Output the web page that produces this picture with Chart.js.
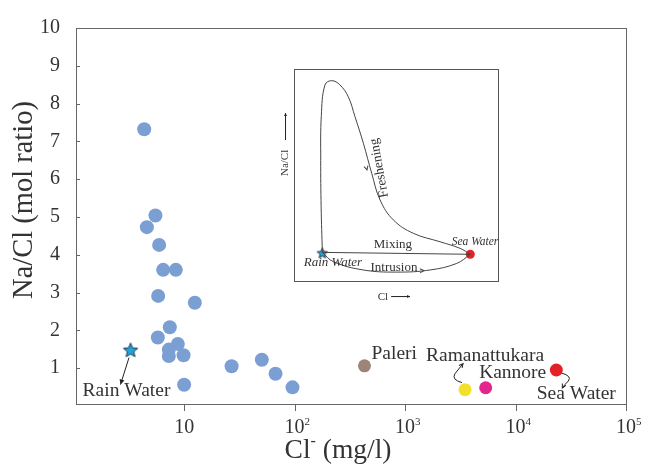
<!DOCTYPE html>
<html>
<head>
<meta charset="utf-8">
<script src="https://cdn.jsdelivr.net/npm/chart.js@4.4.0/dist/chart.umd.min.js"></script>
<style>
html,body{margin:0;padding:0;background:#fff;}
#wrap{position:relative;width:652px;height:464px;}
#main{position:absolute;left:0;top:0;}
#inset{position:absolute;left:270px;top:60px;}
</style>
</head>
<body>
<div id="wrap">
<canvas id="main" width="652" height="464"></canvas>
<canvas id="inset" width="236" height="250"></canvas>
</div>
<script>
const SERIF='"Liberation Serif","Times New Roman",serif';
const INK='#333';

// groundwater samples: Cl- (mg/l) and Na/Cl (mol ratio)
const wellCl=[4.35,5.5,4.6,5.94,6.46,8.41,5.82,12.5,7.42,5.78,8.77,7.27,7.27,9.88,10.0,26.9,50.5,67.2,95.7];
const wellRatio=[7.32,5.04,4.73,4.26,3.60,3.60,2.91,2.73,2.08,1.81,1.64,1.49,1.32,1.34,0.56,1.05,1.22,0.85,0.49];

// rain water end member
const rainCl=[3.27];
const rainRatio=[1.49];

// named stations
const siteNames=['Paleri','Ramanattukara','Kannore','Sea Water'];
const siteCl=[429,3490,5370,23400];
const siteRatio=[1.06,0.43,0.48,0.95];
const siteColors=['#9e8478','#f2e12c','#e3258e','#e42128'];

// axis ticks
const yTicks=[1,2,3,4,5,6,7,8,9,10];
const xTicks=[10,100,1000,10000,100000];
const xTickExp=['','2','3','4','5'];

// inset sketch (relative units 0-100)
const freshX=[13.9,13.3,13.1,13.4,15.2,18.5,22.5,26.6,29.9,34,38.1,42.2,48.7,58.5,71.6,81.4,86.4];
const freshY=[13.5,35,57,78,92.5,94.5,92.5,86.9,77.5,65,50.8,38.2,28.8,22.5,18.5,15.4,12.6];
const mixX=[13.9,86.4];
const mixY=[13.5,12.6];
const intrX=[13.9,19.3,34,50.3,66.7,79.8,86.4];
const intrY=[13.5,9.1,5.2,4.2,5.2,8.3,12.6];

function starImg(r,fill,stroke){
const c=document.createElement('canvas');
const s=Math.ceil(r*2+3);
c.width=s;c.height=s;
const g=c.getContext('2d');
g.beginPath();
for(let i=0;i<10;i++){
const a=-Math.PI/2+i*Math.PI/5;
const rr=i%2?r*0.45:r;
g.lineTo(s/2+rr*Math.cos(a),s/2+1+rr*Math.sin(a));
}
g.closePath();
g.fillStyle=fill;g.fill();
g.strokeStyle=stroke;g.lineWidth=1;g.stroke();
return c;
}

function arrowHead(ctx,x,y,ang,len,filled){
ctx.save();
ctx.translate(x,y);ctx.rotate(ang);
ctx.beginPath();
ctx.moveTo(-len,-len*0.5);ctx.lineTo(0,0);ctx.lineTo(-len,len*0.5);
if(filled){ctx.closePath();ctx.fill();}else ctx.stroke();
ctx.restore();
}

function pts(xs,ys){return xs.map((x,i)=>({x:x,y:ys[i]}));}

const mainDecor={
id:'mainDecor',
afterDraw(chart){
const ctx=chart.ctx;
const a=chart.chartArea;
const sx=chart.scales.x,sy=chart.scales.y;
ctx.save();
ctx.strokeStyle='#666';ctx.lineWidth=1;
ctx.strokeRect(Math.round(a.left)+0.5,Math.round(a.top)+0.5,Math.round(a.right-a.left),Math.round(a.bottom-a.top));
// y ticks inward, x ticks outward
ctx.beginPath();
yTicks.forEach(v=>{const p=Math.round(sy.getPixelForValue(v))+0.5;ctx.moveTo(a.left,p);ctx.lineTo(a.left+4,p);});
xTicks.forEach(v=>{const p=Math.round(sx.getPixelForValue(v))+0.5;ctx.moveTo(p,a.bottom);ctx.lineTo(p,a.bottom+7);});
ctx.stroke();

ctx.fillStyle=INK;
// x tick labels with exponents
ctx.textBaseline='alphabetic';
xTicks.forEach((v,i)=>{
const p=sx.getPixelForValue(v);
ctx.font='20px '+SERIF;ctx.textAlign='center';
ctx.fillText('10',p,433);
if(xTickExp[i]){
const w=ctx.measureText('10').width;
ctx.font='11px '+SERIF;ctx.textAlign='left';
ctx.fillText(xTickExp[i],p+w/2,425);
}
});

// axis titles
ctx.font='27.5px '+SERIF;
const w1=ctx.measureText('Cl').width;
const w2=ctx.measureText(' (mg/l)').width;
ctx.font='16px '+SERIF;
const wm=ctx.measureText('-').width;
let x0=338-(w1+wm+w2)/2;
ctx.textAlign='left';
ctx.font='27.5px '+SERIF;ctx.fillText('Cl',x0,458);
ctx.font='16px '+SERIF;ctx.fillText('-',x0+w1,446);
ctx.font='27.5px '+SERIF;ctx.fillText(' (mg/l)',x0+w1+wm,458);

ctx.save();
ctx.translate(25,200);ctx.rotate(-Math.PI/2);
ctx.textAlign='center';ctx.textBaseline='middle';
ctx.font='28.5px '+SERIF;
ctx.fillText('Na/Cl (mol ratio)',0,0);
ctx.restore();

// point labels
const star=chart.getDatasetMeta(1).data[0];
const site=siteNames.map((n,i)=>chart.getDatasetMeta(2+i).data[0]);
ctx.font='19.5px '+SERIF;ctx.textBaseline='middle';ctx.textAlign='center';
ctx.fillText('Rain Water',star.x-4,star.y+41);
ctx.textAlign='left';
ctx.fillText(siteNames[0],site[0].x+7,site[0].y-12);
ctx.textAlign='center';
ctx.fillText(siteNames[1],site[1].x+20,site[1].y-34);
ctx.fillText(siteNames[2],site[2].x+27,site[2].y-15);
ctx.fillText(siteNames[3],site[3].x+20,site[3].y+24);

// leader arrows
ctx.strokeStyle='#222';ctx.fillStyle='#222';ctx.lineWidth=1;
ctx.beginPath();
ctx.moveTo(star.x-1.5,star.y+8);ctx.lineTo(star.x-10,star.y+35);
ctx.stroke();
arrowHead(ctx,star.x-10,star.y+35,Math.atan2(27,-8.5),5,true);

const r=site[1];
ctx.beginPath();
ctx.moveTo(r.x-3,r.y-7);
ctx.quadraticCurveTo(r.x-14,r.y-10,r.x-10,r.y-16);
ctx.quadraticCurveTo(r.x-6,r.y-21,r.x-2,r.y-26);
ctx.stroke();
arrowHead(ctx,r.x-2,r.y-26,Math.atan2(-5,4),4,false);

const s=site[3];
ctx.beginPath();
ctx.moveTo(s.x+5,s.y+3);
ctx.quadraticCurveTo(s.x+16,s.y+6,s.x+12,s.y+11);
ctx.quadraticCurveTo(s.x+8,s.y+15,s.x+6,s.y+18);
ctx.stroke();
arrowHead(ctx,s.x+6,s.y+18,Math.atan2(4,-2),4,false);
ctx.restore();
}
};

new Chart(document.getElementById('main'),{
type:'scatter',
data:{
datasets:[
{data:pts(wellCl,wellRatio),backgroundColor:'#7b9fd3',borderWidth:0,pointRadius:7},
{data:pts(rainCl,rainRatio),pointStyle:starImg(7.5,'#1da6da','#1f3550'),pointRadius:8},
...siteNames.map((n,i)=>({label:n,data:[{x:siteCl[i],y:siteRatio[i]}],backgroundColor:siteColors[i],borderWidth:0,pointRadius:6.5}))
]
},
options:{
responsive:false,
animation:false,
layout:{padding:{top:16,right:26,left:0,bottom:0}},
plugins:{legend:{display:false},tooltip:{enabled:false}},
scales:{
x:{
type:'logarithmic',min:1.05,max:100000,
afterBuildTicks:s=>{s.ticks=xTicks.map(v=>({value:v}));},
afterFit:s=>{s.height=60;},
ticks:{display:false},
grid:{display:false,drawTicks:false},
border:{display:false}
},
y:{
min:0.05,max:10,
afterBuildTicks:s=>{s.ticks=yTicks.map(v=>({value:v}));},
afterFit:s=>{s.width=76;},
ticks:{font:{family:SERIF,size:20},color:INK,padding:16},
grid:{display:false,drawTicks:false},
border:{display:false}
}
}
},
plugins:[mainDecor]
});

const insetDecor={
id:'insetDecor',
afterDraw(chart){
const ctx=chart.ctx;
const a=chart.chartArea;
const sx=chart.scales.x,sy=chart.scales.y;
const X=v=>sx.getPixelForValue(v),Y=v=>sy.getPixelForValue(v);
ctx.save();
ctx.strokeStyle='#555';ctx.lineWidth=1;
ctx.strokeRect(Math.round(a.left)+0.5,Math.round(a.top)+0.5,Math.round(a.right-a.left),Math.round(a.bottom-a.top));
ctx.fillStyle=INK;ctx.textBaseline='middle';ctx.textAlign='center';

ctx.font='13px '+SERIF;
ctx.fillText('Mixing',X(48.5),Y(17));
ctx.fillText('Intrusion',X(49),Y(6.1));
ctx.font='italic 13px '+SERIF;
ctx.fillText('Rain Water',X(19.1),Y(8.5));
ctx.font='italic 11.5px '+SERIF;
ctx.fillText('Sea Water',X(88.7),Y(18.4));

ctx.save();
ctx.translate(X(41.8),Y(53.3));ctx.rotate(-100*Math.PI/180);
ctx.font='13.5px '+SERIF;
ctx.fillText('Freshening',0,0);
ctx.restore();

// axis hints outside the box
ctx.save();
ctx.translate(X(-4.4),Y(55.7));ctx.rotate(-Math.PI/2);
ctx.font='11px '+SERIF;
ctx.fillText('Na/Cl',0,0);
ctx.restore();
ctx.font='11px '+SERIF;
ctx.fillText('Cl',X(43.6),Y(-7.5));

ctx.strokeStyle='#222';ctx.fillStyle='#222';
ctx.beginPath();
ctx.moveTo(X(-4.4)+0.5,Y(66.5));ctx.lineTo(X(-4.4)+0.5,Y(79.2));
ctx.moveTo(X(47.6),Y(-7.1)+0.5);ctx.lineTo(X(56.9),Y(-7.1)+0.5);
ctx.stroke();
arrowHead(ctx,X(-4.4)+0.5,Y(79.2),-Math.PI/2,3,true);
arrowHead(ctx,X(56.9),Y(-7.1)+0.5,0,3,true);

// flow direction marks on curves
ctx.strokeStyle='#444';
arrowHead(ctx,X(35.8),Y(52.4),75*Math.PI/180,4,false);
arrowHead(ctx,X(63.7),Y(4.9),-3*Math.PI/180,4,false);
ctx.restore();
}
};

const lineStyle={showLine:true,borderColor:'#444',borderWidth:1,pointRadius:0,tension:0.4,fill:false};

new Chart(document.getElementById('inset'),{
type:'scatter',
data:{
datasets:[
{...lineStyle,data:pts(freshX,freshY)},
{...lineStyle,tension:0,data:pts(mixX,mixY)},
{...lineStyle,data:pts(intrX,intrY)},
{data:[{x:mixX[1],y:mixY[1]}],backgroundColor:'#e42128',borderWidth:0,pointRadius:4.5},
{data:[{x:mixX[0],y:mixY[0]}],pointStyle:starImg(5.5,'#1da6da','#1f3550'),pointRadius:6}
]
},
options:{
responsive:false,
animation:false,
layout:{padding:{left:24,top:9,right:8,bottom:29}},
plugins:{legend:{display:false},tooltip:{enabled:false}},
scales:{
x:{min:0,max:100,display:false},
y:{min:0,max:100,display:false}
}
},
plugins:[insetDecor]
});
</script>
</body>
</html>
